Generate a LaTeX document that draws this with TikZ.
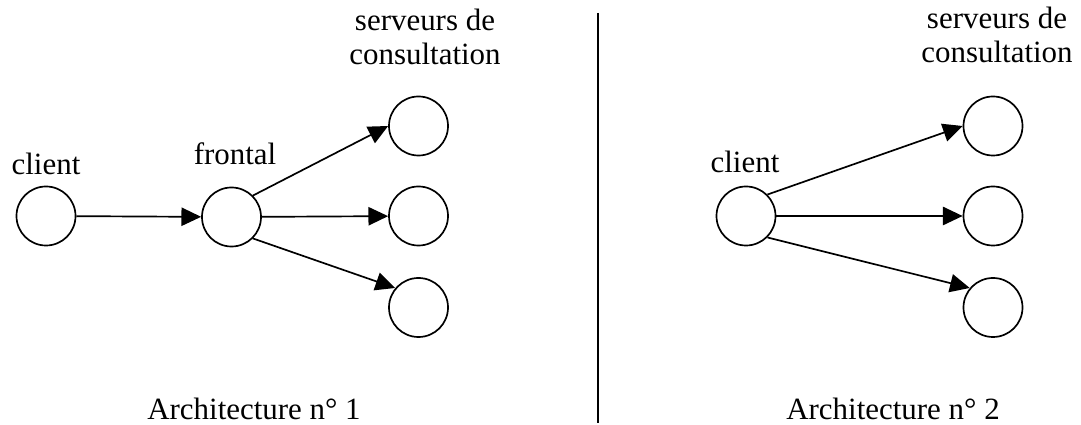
\documentclass[tikz,border=0pt]{standalone}
\usepackage{fontspec}
\setmainfont{Liberation Serif}
\usepackage{tikz}
\usetikzlibrary{arrows.meta}

\begin{document}
\begin{tikzpicture}[x=0.025cm,y=-0.025cm,line width=1.2pt,srv/.style={draw,circle,inner sep=0pt,minimum size=1.475cm},lbl/.style={inner sep=0pt,anchor=base,font=\fontsize{22}{24.3}\selectfont,align=center},req/.style={-{Triangle[length=14pt,width=13pt]}}]
\useasboundingbox (0,0) rectangle (1081,425);
% architecture 1
\node[srv] (clientA) at (46,216) {};
\node[srv] (frontal) at (231.5,217) {};
\node[srv] (consA1) at (418.5,126) {};
\node[srv] (consA2) at (418.5,216) {};
\node[srv] (consA3) at (418.5,307.5) {};
\node[lbl] (clientAlbl) at (46,175) {client};
\node[lbl] (frontallbl) at (235,165) {frontal};
\node[lbl] (consAlbl) at (425,65) {serveurs de\\consultation};
\node[lbl] (archA) at (254,420) {Architecture n° 1};
\draw[req] (clientA) -- (frontal);
\draw[req] (frontal.45) -- (consA1.west);
\draw[req] (frontal) -- (consA2);
\draw[req] (frontal.-45) -- (consA3.140);
% separation
\coordinate (sepTop) at (598,13);
\coordinate (sepBot) at (598,423);
\draw[line width=1pt] (sepTop) -- (sepBot);
% architecture 2
\node[srv] (clientB) at (746,216) {};
\node[srv] (consB1) at (993,126) {};
\node[srv] (consB2) at (993,216) {};
\node[srv] (consB3) at (993,307.5) {};
\node[lbl] (clientBlbl) at (745,173) {client};
\node[lbl] (consBlbl) at (997,63) {serveurs de\\consultation};
\node[lbl] (archB) at (893,420) {Architecture n° 2};
\draw[req] (clientB.45) -- (consB1.west);
\draw[req] (clientB) -- (consB2);
\draw[req] (clientB.-45) -- (consB3.140);
\end{tikzpicture}
\end{document}
